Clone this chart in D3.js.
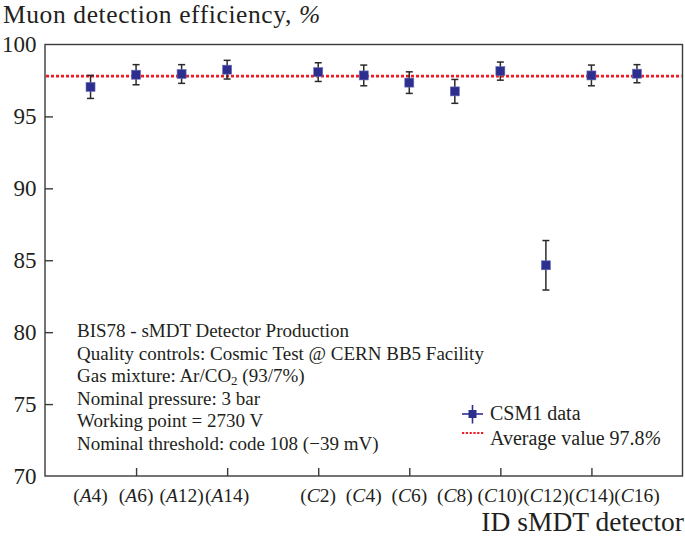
<!DOCTYPE html>
<html>
<head>
<meta charset="utf-8">
<script src="https://cdn.jsdelivr.net/npm/d3@7"></script>
<style>
  html, body { margin: 0; padding: 0; background: #fff; }
  svg { display: block; }
  svg text { font-family: "Liberation Serif", "Tinos", "Times New Roman", "DejaVu Serif", serif; }
</style>
</head>
<body>
<svg id="chart" width="685" height="538"></svg>
<script>
// ---- data ----
const groups = ["A", "A", "A", "A", "C", "C", "C", "C", "C", "C", "C", "C"];
const numbers = ["4", "6", "12", "14", "2", "4", "6", "8", "10", "12", "14", "16"];
const positions = [1, 2, 3, 4, 6, 7, 8, 9, 10, 11, 12, 13];
const efficiency = [97.05, 97.9, 97.95, 98.25, 98.08, 97.85, 97.35, 96.74, 98.15, 84.65, 97.85, 97.97];
const errors = [0.8, 0.7, 0.65, 0.65, 0.65, 0.72, 0.75, 0.83, 0.63, 1.72, 0.72, 0.63];
const average = 97.8;
const yTicks = [70, 75, 80, 85, 90, 95, 100];
const xTicks = [2, 4, 6, 8, 10, 12];
const notes = [
  "BIS78 - sMDT Detector Production",
  "Quality controls: Cosmic Test @ CERN BB5 Facility",
  "Gas mixture: Ar/CO|2| (93/7%)",
  "Nominal pressure: 3 bar",
  "Working point = 2730 V",
  "Nominal threshold: code 108 (\u221239 mV)"
];

// ---- layout ----
const FONT = "'Liberation Serif', 'Tinos', 'Times New Roman', 'DejaVu Serif', serif";
const svg = d3.select("#chart");
const L = 45, R = 682.5, T = 44.5, B = 476;
const x = d3.scaleLinear().domain([0, 14]).range([L, R]);
const y = d3.scaleLinear().domain([70, 100]).range([B, T]);
const textColor = "#231f20";
const axisColor = "#3a3a3a";
const blue = "#2d2f8e";
const red = "#ee1c25";

// frame
svg.append("rect")
  .attr("x", L).attr("y", T).attr("width", R - L).attr("height", B - T)
  .attr("fill", "none").attr("stroke", axisColor).attr("stroke-width", 1.4);

// y ticks (inward)
const yAxis = d3.axisLeft(y).tickValues(yTicks.filter(v => v > 70 && v < 100))
  .tickSizeInner(-8).tickSizeOuter(0).tickFormat("");
const gy = svg.append("g").attr("transform", `translate(${L},0)`).call(yAxis);
gy.select(".domain").remove();
gy.selectAll(".tick line").attr("stroke", axisColor).attr("stroke-width", 1.4);

// y labels
svg.append("g").selectAll("text").data(yTicks).join("text")
  .attr("x", 36.5).attr("y", d => y(d)).attr("dy", "0.34em")
  .attr("text-anchor", "end").attr("font-family", FONT).attr("font-size", 23)
  .attr("fill", textColor).text(d => d);

// x ticks (inward)
const xAxis = d3.axisBottom(x).tickValues(xTicks).tickSizeInner(-8).tickSizeOuter(0).tickFormat("");
const gx = svg.append("g").attr("transform", `translate(0,${B})`).call(xAxis);
gx.select(".domain").remove();
gx.selectAll(".tick line").attr("stroke", axisColor).attr("stroke-width", 1.4);

// x category labels
const lbl = svg.append("g").selectAll("text").data(positions).join("text")
  .attr("x", d => x(d)).attr("y", 502)
  .attr("text-anchor", "middle").attr("font-family", FONT).attr("font-size", 19.5).attr("fill", textColor);
lbl.each(function(d, i) {
  const t = d3.select(this);
  t.append("tspan").text("(");
  t.append("tspan").attr("font-style", "italic").text(groups[i]);
  t.append("tspan").text(numbers[i] + ")");
});

// titles
const title = svg.append("text").attr("x", 3).attr("y", 22.5).attr("font-family", FONT)
  .attr("font-size", 25.5).attr("letter-spacing", 0.6).attr("fill", textColor);
title.append("tspan").text("Muon detection efficiency, ");
title.append("tspan").attr("font-style", "italic").text("%");
svg.append("text").attr("x", 684).attr("y", 531).attr("text-anchor", "end").attr("font-family", FONT)
  .attr("font-size", 27.5).attr("fill", textColor).text("ID sMDT detector");

// average line
svg.append("line")
  .attr("x1", L + 1).attr("x2", R - 1).attr("y1", y(average)).attr("y2", y(average))
  .attr("stroke", red).attr("stroke-width", 2.8).attr("stroke-dasharray", "3,2");

// error bars
const pts = positions.map((p, i) => ({ p, v: efficiency[i], e: errors[i] }));
const eb = svg.append("g").attr("stroke", "#2a2a2a").attr("stroke-width", 1.5);
eb.selectAll("line.v").data(pts).join("line").attr("class", "v")
  .attr("x1", d => x(d.p)).attr("x2", d => x(d.p))
  .attr("y1", d => y(d.v - d.e)).attr("y2", d => y(d.v + d.e));
eb.selectAll("line.top").data(pts).join("line").attr("class", "top")
  .attr("x1", d => x(d.p) - 3.5).attr("x2", d => x(d.p) + 3.5)
  .attr("y1", d => y(d.v + d.e)).attr("y2", d => y(d.v + d.e));
eb.selectAll("line.bot").data(pts).join("line").attr("class", "bot")
  .attr("x1", d => x(d.p) - 3.5).attr("x2", d => x(d.p) + 3.5)
  .attr("y1", d => y(d.v - d.e)).attr("y2", d => y(d.v - d.e));

// markers
svg.append("g").selectAll("rect").data(pts).join("rect")
  .attr("x", d => x(d.p) - 4.5).attr("y", d => y(d.v) - 4.5)
  .attr("width", 9).attr("height", 9)
  .attr("fill", blue).attr("stroke", "#6a6cb8").attr("stroke-width", 0.6);

// annotation
const nt = svg.append("g").selectAll("text").data(notes).join("text")
  .attr("x", 77).attr("y", (d, i) => 337 + i * 22.5)
  .attr("font-family", FONT).attr("font-size", 19).attr("fill", textColor);
nt.each(function(d) {
  const t = d3.select(this);
  const parts = d.split("|");
  parts.forEach((s, k) => {
    if (k % 2 === 1) {
      t.append("tspan").attr("font-size", 13).attr("dy", 3).text(s);
    } else {
      const sp = t.append("tspan").text(s);
      if (k > 0) sp.attr("dy", -3);
    }
  });
});

// legend
const lg = svg.append("g");
lg.append("line").attr("x1", 462).attr("x2", 483).attr("y1", 414).attr("y2", 414)
  .attr("stroke", blue).attr("stroke-width", 1.6);
lg.append("line").attr("x1", 472.5).attr("x2", 472.5).attr("y1", 405).attr("y2", 423.5)
  .attr("stroke", blue).attr("stroke-width", 1.6);
lg.append("rect").attr("x", 468.5).attr("y", 410).attr("width", 8).attr("height", 8).attr("fill", blue);
lg.append("text").attr("x", 490).attr("y", 419.5).attr("font-family", FONT).attr("font-size", 20)
  .attr("fill", textColor).text("CSM1 data");
lg.append("line").attr("x1", 462).attr("x2", 484).attr("y1", 433).attr("y2", 433)
  .attr("stroke", red).attr("stroke-width", 2.2).attr("stroke-dasharray", "2.2,1.6");
const lt = lg.append("text").attr("x", 490).attr("y", 445).attr("font-family", FONT).attr("font-size", 20).attr("fill", textColor);
lt.append("tspan").text("Average value 97.8");
lt.append("tspan").attr("font-style", "italic").text("%");
</script>
</body>
</html>
